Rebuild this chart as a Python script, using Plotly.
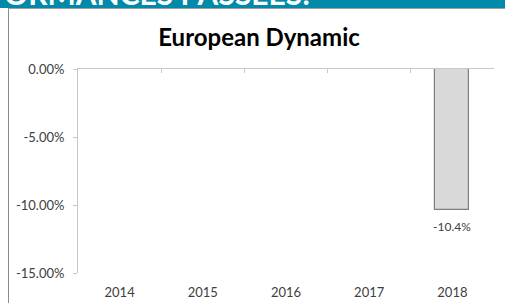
import plotly.graph_objects as go

years = ["2014", "2015", "2016", "2017", "2018"]
returns = [None, None, None, None, -0.104]
bar_labels = ["", "", "", "", "-10.4%"]
y_tickvals = [0, -0.05, -0.10, -0.15]
y_ticktext = ["0.00%", "-5.00%", "-10.00%", "-15.00%"]
title_text = "European Dynamic"
banner_text = "PERFORMANCES PASSÉES:"

W, H = 505, 303
L, R, T, B = 78, 11, 69, 30
PW, PH = W - L - R, H - T - B

def px(X):
    return (X - L) / PW

def py(Y):
    return (H - B - Y) / PH

xpos = list(range(len(years)))
FONT = "Lato"

fig = go.Figure()
fig.add_trace(go.Bar(
    x=xpos, y=returns, width=0.41,
    marker=dict(color="#d9d9d9", line=dict(color="#7f7f7f", width=1.2)),
    xaxis="x", yaxis="y", showlegend=False, hoverinfo="skip",
))
# invisible trace to materialise the top axis
fig.add_trace(go.Scatter(x=[xpos[0]], y=[0], mode="markers", marker=dict(opacity=0),
                         xaxis="x2", yaxis="y", showlegend=False, hoverinfo="skip"))

for xi, v, lab in zip(xpos, returns, bar_labels):
    if v is not None and lab:
        fig.add_annotation(x=xi, y=v, xref="x", yref="y", text=lab, showarrow=False,
                           yanchor="top", yshift=-7,
                           font=dict(family=FONT, size=12, color="#404040"))

boundaries = [i - 0.5 for i in range(len(years) + 1)]

fig.update_layout(
    width=W, height=H,
    margin=dict(l=L, r=R, t=T, b=B, pad=0, autoexpand=False),
    paper_bgcolor="white", plot_bgcolor="white",
    title=dict(text=f"<b>{title_text}</b>", x=259 / W, xref="container", xanchor="center",
               y=1 - 38 / H, yref="container", yanchor="middle",
               font=dict(family=FONT, size=24, color="#000000")),
    xaxis=dict(range=[-0.5, len(years) - 0.5], tickvals=xpos, ticktext=years,
               showline=False, showgrid=False, zeroline=False, automargin=False,
               ticks="outside", ticklen=7, tickcolor="rgba(0,0,0,0)",
               tickfont=dict(family=FONT, size=13, color="#404040")),
    xaxis2=dict(range=[-0.5, len(years) - 0.5], overlaying="x", anchor="y", side="top",
                tickvals=boundaries, showticklabels=False, ticks="inside", ticklen=4,
                tickcolor="#c8c8c8", showline=True, linecolor="#c8c8c8", linewidth=1,
                showgrid=False, zeroline=False, automargin=False),
    yaxis=dict(range=[-0.15, 0], tickvals=y_tickvals, ticktext=y_ticktext,
               showline=True, linecolor="#c8c8c8", linewidth=1,
               ticks="outside", ticklen=4, tickcolor="#c8c8c8",
               showgrid=False, zeroline=False, automargin=False,
               ticklabelstandoff=6,
               tickfont=dict(family=FONT, size=13, color="#404040")),
    bargap=0,
)

# slide decoration: teal banner, separator line and left border
fig.add_shape(type="rect", xref="paper", yref="paper",
              x0=px(-2), x1=px(W + 2), y0=py(8), y1=py(-2),
              fillcolor="#0089a8", line=dict(width=0), layer="below")
fig.add_shape(type="line", xref="paper", yref="paper",
              x0=px(8), x1=px(W + 2), y0=py(8.5), y1=py(8.5),
              line=dict(color="#a0a0a0", width=1))
fig.add_shape(type="line", xref="paper", yref="paper",
              x0=px(8.5), x1=px(8.5), y0=py(8.5), y1=py(H + 2),
              line=dict(color="#8c8c8c", width=1))
fig.add_annotation(xref="paper", yref="paper", x=px(312), y=py(13),
                   xanchor="right", yanchor="bottom", showarrow=False,
                   text=f"<b>{banner_text}</b>",
                   font=dict(family=FONT, size=30, color="white"))

fig.write_html("out.html", config={"displayModeBar": False},
               post_script="document.body.style.margin='0';document.body.style.overflow='hidden';")
